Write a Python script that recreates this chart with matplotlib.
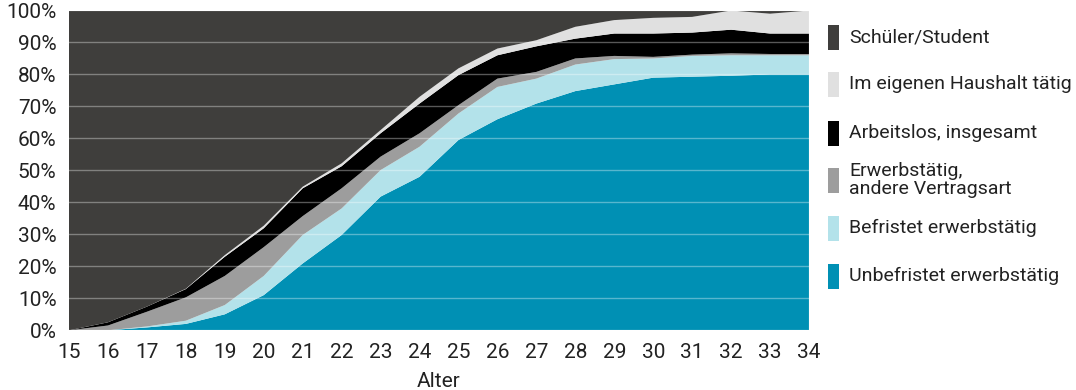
import matplotlib
matplotlib.use("Agg")
import matplotlib.pyplot as plt
from matplotlib.patches import Rectangle

plt.rcParams["font.family"] = ["Roboto", "DejaVu Sans"]

# Age in years
ages = list(range(15, 35))

# Share of each status per age (percent), stacked from bottom to top
unbefristet = [0, 0, 0.9, 2, 5, 11, 20.9, 29.8, 41.8, 48, 59.5, 66, 70.9, 74.8, 76.9, 79, 79.3, 79.6, 80, 80]
befristet = [0, 0, 0.3, 1, 2.9, 6, 8.9, 8.3, 8.3, 9.4, 8.3, 10.1, 7.8, 8.3, 7.9, 6, 6.5, 6.4, 6, 6]
andere_vertragsart = [0, 1.5, 4.6, 7.3, 9.1, 9, 5.9, 6.3, 4.2, 4.2, 2.6, 2.6, 2.1, 1.9, 1, 0.5, 0.4, 0.6, 0.4, 0.4]
arbeitslos = [0, 1, 1.6, 2.6, 6, 5.9, 8.7, 6.9, 7.3, 9.3, 9.4, 7.3, 8, 6.2, 7, 7.3, 6.9, 7.4, 6.4, 6.4]
haushalt = [0, 0, 0, 0.1, 0.5, 0.8, 0.5, 0.9, 1, 2.1, 2.1, 2.1, 1.9, 3.7, 4.2, 4.9, 4.9, 6, 6.2, 7.2]
schueler = [100, 97.5, 92.6, 87, 76.5, 67.3, 55.1, 47.8, 37.4, 27, 18.1, 11.9, 9.3, 5.1, 3, 2.3, 2, 0, 1, 0]

series = [unbefristet, befristet, andere_vertragsart, arbeitslos, haushalt, schueler]
series_labels = [
    "Unbefristet erwerbstätig",
    "Befristet erwerbstätig",
    "Erwerbstätig,\nandere Vertragsart",
    "Arbeitslos, insgesamt",
    "Im eigenen Haushalt tätig",
    "Schüler/Student",
]
colors = ["#0090b4", "#b3e2ea", "#9d9d9d", "#000000", "#e0e0e0", "#3f3e3c"]

y_ticks = list(range(0, 101, 10))
y_tick_labels = [f"{v}%" for v in y_ticks]

text_color = "#222222"

fig = plt.figure(figsize=(10.76, 3.90), dpi=100)
ax = fig.add_axes([69 / 1076, 1 - 330.3 / 390, 740 / 1076, 319.8 / 390])

ax.stackplot(ages, *series, colors=colors, linewidth=0)

for v in y_ticks:
    ax.axhline(v, color="white", alpha=0.35, linewidth=1.0, zorder=3)
ax.axvline(ages[-1], color="white", alpha=0.35, linewidth=1.0, zorder=3)

ax.set_xlim(ages[0], ages[-1])
ax.set_ylim(0, 100)
ax.set_xticks(ages)
ax.set_yticks(y_ticks)
ax.set_yticklabels(y_tick_labels)
ax.tick_params(axis="both", length=0, labelsize=15, colors=text_color)
ax.tick_params(axis="x", pad=9)
ax.tick_params(axis="y", pad=9)
for s in ax.spines.values():
    s.set_visible(False)
ax.set_xlabel("Alter", fontsize=15, color=text_color, labelpad=7)

# Legend on the right, top entry first
legend_centers = [276, 228, 180, 133, 84, 37]
for label, color, yc in zip(series_labels, colors, legend_centers):
    fig.patches.append(Rectangle((828 / 1076, 1 - (yc + 12.5) / 390), 11 / 1076, 25 / 390,
                                 transform=fig.transFigure, facecolor=color, edgecolor="none"))
    fig.text(849 / 1076, 1 - yc / 390, label, fontsize=14, color=text_color,
             va="center", ha="left", linespacing=0.95)

fig.savefig("out.png", dpi=100)
